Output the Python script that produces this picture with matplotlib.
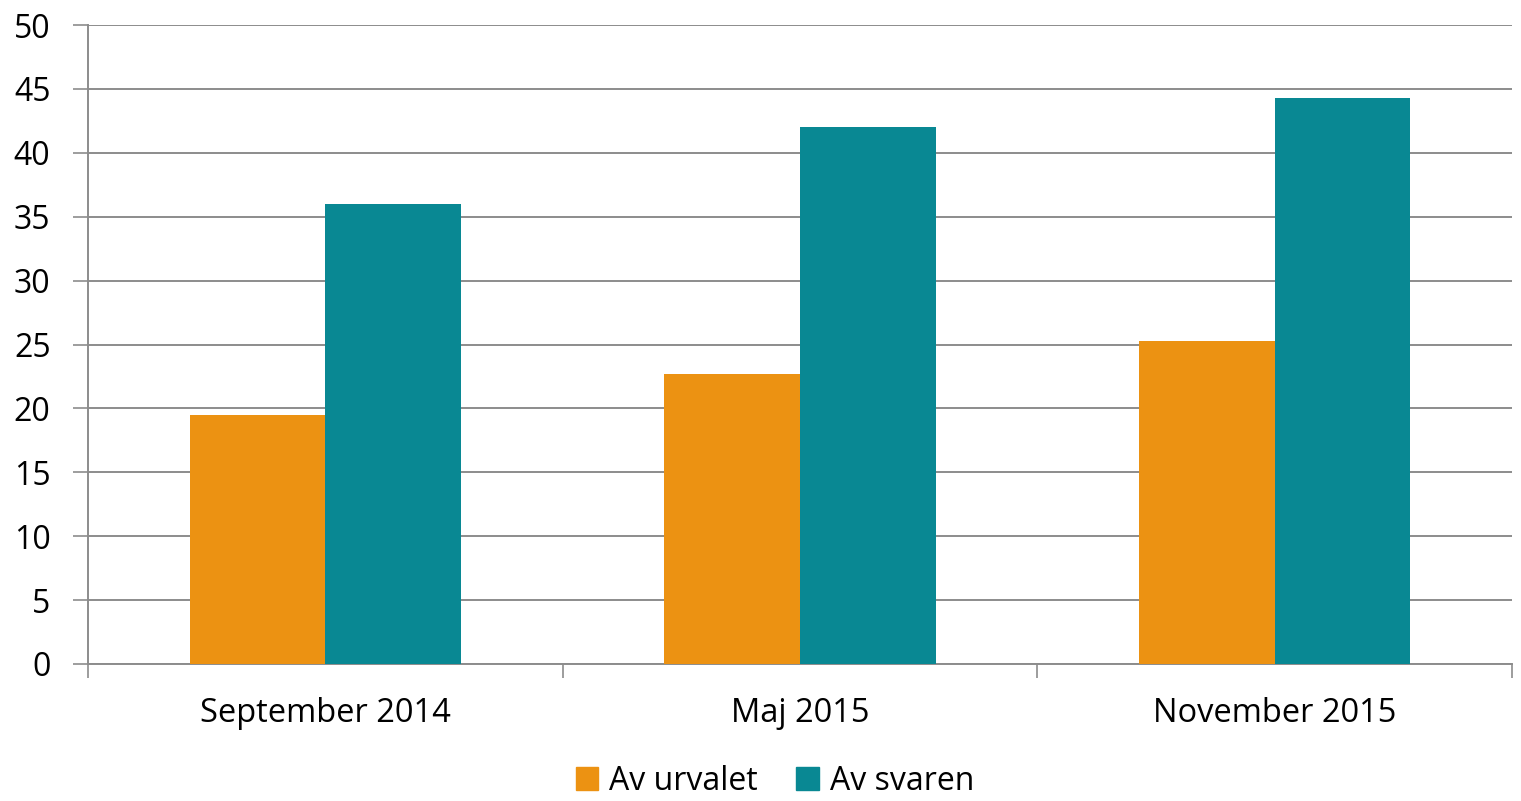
import numpy as np
import matplotlib
matplotlib.use("Agg")
from matplotlib import pyplot as plt
from matplotlib.patches import Patch

plt.rcParams['font.family'] = ['Open Sans', 'DejaVu Sans']

categories = ["September 2014", "Maj 2015", "November 2015"]
series_names = ["Av urvalet", "Av svaren"]
av_urvalet = [19.5, 22.7, 25.3]
av_svaren = [36.0, 42.0, 44.3]
colors = ["#EC9212", "#098893"]

fig = plt.figure(figsize=(15.21, 8.01), dpi=100)
ax = fig.add_axes([88/1521, 137/801, (1512-88)/1521, (664-25)/801])

x = np.arange(len(categories))
w = 1/3.5
ax.bar(x - w/2, av_urvalet, width=w, color=colors[0], zorder=3)
ax.bar(x + w/2, av_svaren, width=w, color=colors[1], zorder=3)

ax.set_xlim(-0.5, len(categories) - 0.5)
ax.set_ylim(0, 50)
ax.set_yticks(range(0, 51, 5))
ax.yaxis.grid(True, color="#8c8c8c", linewidth=1.4, zorder=0)
ax.set_axisbelow(True)

# category labels centered, tick marks on the boundaries
ax.set_xticks(x)
ax.set_xticklabels(categories)
ax.tick_params(axis="x", length=0, labelsize=23.5, pad=24)
ax.set_xticks(np.arange(-0.5, len(categories)), minor=True)
ax.tick_params(axis="x", which="minor", length=10, width=1.2, color="#8c8c8c")
ax.tick_params(axis="y", length=11, width=1.2, color="#8c8c8c", labelsize=23, pad=16)

for s in ["top", "right"]:
    ax.spines[s].set_visible(False)
for s in ["left", "bottom"]:
    ax.spines[s].set_color("#8c8c8c")
    ax.spines[s].set_linewidth(1.4)

handles = [Patch(color=c, label=n) for c, n in zip(colors, series_names)]
fig.legend(handles=handles, loc="center", bbox_to_anchor=(775/1521, 1 - 781/801), ncol=2,
           frameon=False, fontsize=23, handlelength=0.7, handleheight=0.7,
           handletextpad=0.35, columnspacing=1.2)

fig.savefig("out.png", dpi=100)
